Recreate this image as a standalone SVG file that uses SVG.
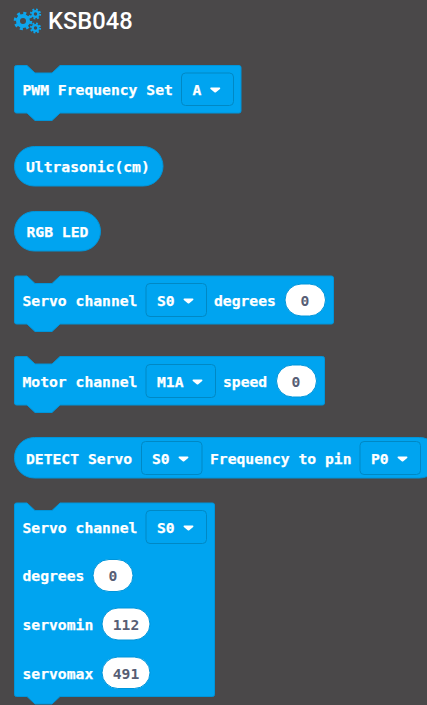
<svg xmlns="http://www.w3.org/2000/svg" width="427" height="705" viewBox="0 0 427 705">
<style>
.b{fill:#00a4f0;stroke:#0095da;stroke-width:1}
.d{fill:#00a4f0;stroke:#0088c4;stroke-width:1}
.i{fill:#fff;stroke:#0095da;stroke-width:1}
.t{font-family:"DejaVu Sans Mono",monospace;font-size:14.7px;font-weight:700;fill:#fff;stroke:#fff;stroke-width:.25px}
.n{font-family:"DejaVu Sans Mono",monospace;font-size:14.7px;font-weight:700;fill:#575e75;text-anchor:middle}
.a{fill:#fff;stroke:#fff;stroke-width:1.5;stroke-linejoin:round}
.g{fill:none;stroke:#0ea5ec}
</style>
<rect width="427" height="705" fill="#4a4849"/>
<g id="title">
<circle class="g" cx="23" cy="21" r="5" stroke-width="4"/>
<circle class="g" cx="23" cy="21" r="7.8" stroke-width="3" stroke-dasharray="3 3.13"/>
<circle class="g" cx="35.5" cy="14" r="2.8" stroke-width="2.2"/>
<circle class="g" cx="35.5" cy="14" r="4.6" stroke-width="2" stroke-dasharray="1.8 1.81"/>
<circle class="g" cx="35.5" cy="28" r="2.8" stroke-width="2.2"/>
<circle class="g" cx="35.5" cy="28" r="4.6" stroke-width="2" stroke-dasharray="1.8 1.81"/>
<text x="48" y="29" font-family="Roboto,sans-serif" font-size="23.7" font-weight="500" fill="#fff">KSB048</text>
</g>
<g id="pwm">
<path class="b" d="M16.5 65.5H27L35 73H52L60 65.5H239a2 2 0 0 1 2 2V111a2 2 0 0 1-2 2H60L52 120.5H35L27 113H16.5a2 2 0 0 1-2-2V67.5a2 2 0 0 1 2-2Z"/>
<text class="t" x="22.5" y="94.6">PWM Frequency Set</text>
<rect class="d" x="181.5" y="73" width="52" height="32.5" rx="4"/>
<text class="t" x="192.5" y="94.6">A</text>
<path class="a" d="M211 88.300H219.500L215.200 91.800Z"/>
</g>
<g id="ultrasonic">
<rect class="b" x="14.5" y="146.5" width="148.5" height="39.5" rx="19.75"/>
<text class="t" x="26" y="171.6">Ultrasonic(cm)</text>
</g>
<g id="rgb">
<rect class="b" x="14.5" y="211.5" width="86" height="39.5" rx="19.75"/>
<text class="t" x="26.5" y="236.6">RGB LED</text>
</g>
<g id="servo">
<path class="b" d="M16.5 276H27L35 283.500H52L60 276H331.500a2 2 0 0 1 2 2V322a2 2 0 0 1-2 2H60L52 331.500H35L27 324H16.500a2 2 0 0 1-2-2V278a2 2 0 0 1 2-2Z"/>
<text class="t" x="22.5" y="305.6">Servo channel</text>
<rect class="d" x="146" y="283.5" width="60.5" height="33" rx="4"/>
<text class="t" x="157" y="305.6">S0</text>
<path class="a" d="M184.300 299.300H192.700L188.500 302.800Z"/>
<text class="t" x="214" y="305.6">degrees</text>
<rect class="i" x="285" y="284" width="40.5" height="32" rx="16"/>
<text class="n" x="305" y="305.6">0</text>
</g>
<g id="motor">
<path class="b" d="M16.500 356.500H27L35 364H52L60 356.500H322.500a2 2 0 0 1 2 2V403a2 2 0 0 1-2 2H60L52 412.500H35L27 405H16.500a2 2 0 0 1-2-2V358.500a2 2 0 0 1 2-2Z"/>
<text class="t" x="22.5" y="386.6">Motor channel</text>
<rect class="d" x="146" y="364.5" width="69.5" height="33" rx="4"/>
<text class="t" x="157" y="386.6">M1A</text>
<path class="a" d="M193.300 380.300H201.700L197.500 383.800Z"/>
<text class="t" x="223" y="386.6">speed</text>
<rect class="i" x="276.5" y="365" width="40" height="32" rx="16"/>
<text class="n" x="296" y="386.6">0</text>
</g>
<g id="detect">
<rect class="b" x="14.5" y="437.5" width="425" height="40.5" rx="20"/>
<text class="t" x="26" y="463.6">DETECT Servo</text>
<rect class="d" x="141.5" y="441.5" width="60.5" height="33" rx="4"/>
<text class="t" x="152" y="463.6">S0</text>
<path class="a" d="M179.300 457.300H187.700L183.500 460.800Z"/>
<text class="t" x="210" y="463.6">Frequency to pin</text>
<rect class="d" x="360" y="441.5" width="60.5" height="33" rx="4"/>
<text class="t" x="371" y="463.6">P0</text>
<path class="a" d="M398.300 457.300H406.700L402.500 460.800Z"/>
</g>
<g id="servo-config">
<path class="b" d="M16.500 503H27L35 510.500H52L60 503H212.500a2 2 0 0 1 2 2V694.500a2 2 0 0 1-2 2H60L52 704H35L27 696.500H16.500a2 2 0 0 1-2-2V505a2 2 0 0 1 2-2Z"/>
<text class="t" x="22.5" y="532.6">Servo channel</text>
<rect class="d" x="146" y="510.5" width="60.5" height="33" rx="4"/>
<text class="t" x="157" y="532.6">S0</text>
<path class="a" d="M184.300 526.300H192.700L188.500 529.800Z"/>
<text class="t" x="22.5" y="580.6">degrees</text>
<rect class="i" x="93" y="559.5" width="40" height="32" rx="16"/>
<text class="n" x="113" y="580.6">0</text>
<text class="t" x="22.5" y="629.6">servomin</text>
<rect class="i" x="102" y="608" width="48" height="32" rx="16"/>
<text class="n" x="126" y="629.6">112</text>
<text class="t" x="22.5" y="678.6">servomax</text>
<rect class="i" x="102" y="657" width="48" height="31.5" rx="15.75"/>
<text class="n" x="126" y="678.6">491</text>
</g>
</svg>
